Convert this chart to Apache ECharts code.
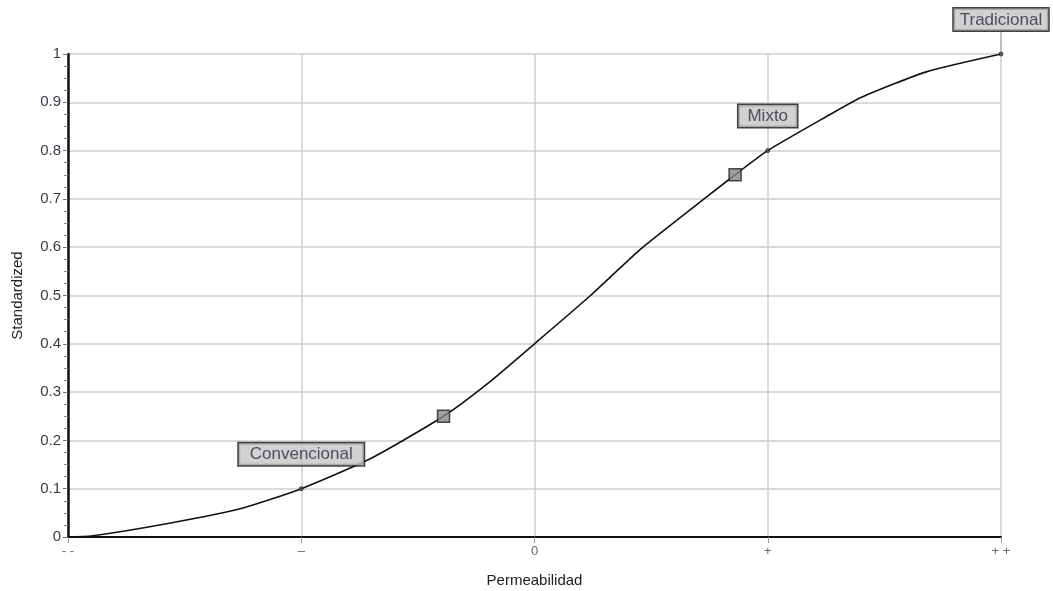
<!DOCTYPE html>
<html><head><meta charset="utf-8">
<script src="https://cdn.jsdelivr.net/npm/echarts@6/dist/echarts.min.js"></script>
<style>html,body{margin:0;padding:0;background:#fff}#c{width:1053px;height:591px}</style>
</head><body><div id="c"></div>
<script>
const xTickLabels = {'-2':'- -','-1':'–','0':'0','1':'+','2':'+ +'};
const curveX = [-2, -1.9, -1.56, -1.25, -1, -0.7, -0.39, -0.2, 0, 0.24, 0.45, 0.6, 0.86, 1, 1.25, 1.4, 1.68, 2];
const curveY = [0, 0.002, 0.029, 0.06, 0.1, 0.163, 0.25, 0.318, 0.4, 0.5, 0.594, 0.652, 0.75, 0.8, 0.87, 0.91, 0.963, 1];
const squareX = [-0.39, 0.86];
const squareY = [0.25, 0.75];
const labelNames = ['Convencional', 'Mixto', 'Tradicional'];
const labelX = [-1, 1, 2];
const labelY = [0.1, 0.8, 1];
const leaderX = [2, 2];
const leaderY = [1, 1.045];

const chart = echarts.init(document.getElementById('c'), null, {renderer:'canvas'});
const font = 'Liberation Sans, Arial, sans-serif';
const pads = [[3,11,2,11],[3,9,2,9],[3,6,2,6]];
chart.setOption({
  animation:false,
  grid:{left:68, right:52, top:54, bottom:54, outerBoundsMode:'none', containLabel:false},
  xAxis:{type:'value', min:-2, max:2, interval:1,
    name:'Permeabilidad', nameLocation:'middle', nameGap:36,
    nameTextStyle:{color:'#222', fontSize:15, fontFamily:font},
    axisLine:{show:true, onZero:false, lineStyle:{color:'#111', width:2}},
    axisTick:{show:true, length:6, lineStyle:{color:'#999'}},
    axisLabel:{color:'#666', fontSize:13, fontFamily:font, margin:8, formatter:v=>xTickLabels[String(v)]},
    splitLine:{show:true, lineStyle:{color:'#cfcfcf', width:1.5}}
  },
  yAxis:{type:'value', min:0, max:1, interval:0.1,
    name:'Standardized', nameLocation:'middle', nameGap:43,
    nameTextStyle:{color:'#222', fontSize:15, fontFamily:font},
    axisLine:{show:true, onZero:false, lineStyle:{color:'#111', width:2.5}},
    axisTick:{show:true, length:5, lineStyle:{color:'#777'}},
    minorTick:{show:true, splitNumber:4, length:4, lineStyle:{color:'#888'}},
    axisLabel:{color:'#3a3a4a', fontSize:15, fontFamily:font, margin:7, formatter:v=>String(Math.round(v*10)/10)},
    splitLine:{show:true, lineStyle:{color:'#cfcfcf', width:1.5}}
  },
  series:[
    {type:'line', symbol:'none', silent:true, clip:false, data:leaderX.map((x,i)=>[x,leaderY[i]]),
     lineStyle:{color:'#aaa', width:1.5}, z:1},
    {type:'line', smooth:0.2, symbol:'none', data:curveX.map((x,i)=>[x,curveY[i]]),
     lineStyle:{color:'#111', width:1.6}, z:3},
    {type:'scatter', symbol:'rect', symbolSize:12, data:squareX.map((x,i)=>[x,squareY[i]]),
     itemStyle:{color:'#888', borderColor:'#222', borderWidth:1.5}, z:5},
    {type:'scatter', symbol:'circle', symbolSize:4, clip:false,
     data:labelX.map((x,i)=>({value:[x,labelY[i]], name:labelNames[i], label:{padding:pads[i]}})),
     itemStyle:{color:'#555', borderColor:'#222', borderWidth:1}, z:6,
     label:{show:true, position:'top', distance:21, formatter:p=>p.name,
       color:'#2a2a44', fontSize:17, fontFamily:font,
       backgroundColor:'#c6c6c6', borderColor:'#111', borderWidth:1.5}
    }
  ]
});
</script></body></html>
